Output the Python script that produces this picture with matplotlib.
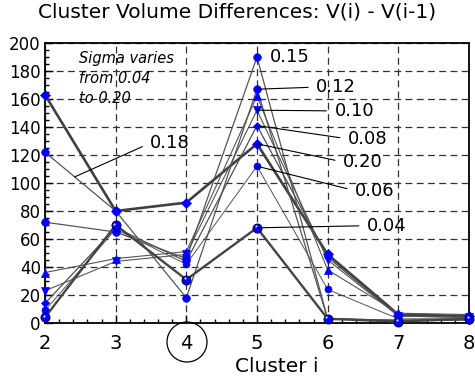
import matplotlib
matplotlib.use('Agg')
import matplotlib.pyplot as plt
import numpy as np
from matplotlib.patches import Circle
from matplotlib.ticker import MultipleLocator
from matplotlib.transforms import offset_copy

clusters = [2, 3, 4, 5, 6, 7, 8]

# volume differences per sigma value
s020 = [163, 80, 86, 128, 49, 6, 5]
s018 = [122, 80, 18, 167, 3, 2, 3]
s015 = [72, 65, 46, 190, 3, 2, 2]
s012 = [36, 46, 51, 162, 38, 7, 6]
s010 = [23, 44, 49, 152, 45, 5, 4]
s008 = [14, 68, 44, 141, 47, 5, 4]
s006 = [9, 67, 42, 112, 24, 3, 3]
s004 = [4, 70, 31, 68, 3, 1, 3]

BLUE = '#0000ff'

fig = plt.figure(figsize=(4.75, 3.78), dpi=100)
ax = fig.add_axes([45 / 475, 55 / 378, 424 / 475, 280 / 378])

series = [
    # values, marker, marker size, line width, line colour
    (s020, 'D', 5.5, 1.9, '#404040'),
    (s018, 'o', 5.5, 0.9, '#555555'),
    (s015, 'o', 5.5, 0.9, '#555555'),
    (s012, '^', 5.5, 0.8, '#555555'),
    (s010, 'v', 5.5, 0.8, '#555555'),
    (s008, 'D', 4.5, 0.9, '#505050'),
    (s006, 'o', 5.0, 0.7, '#555555'),
    (s004, 'o', 6.5, 1.7, '#444444'),
]

for vals, mk, ms, lw, lc in series:
    ax.plot(clusters, vals, '-', color=lc, lw=lw, zorder=3, clip_on=False)

for i, (vals, mk, ms, lw, lc) in enumerate(series):
    if i == 7:
        # shaded ball markers
        ax.plot(clusters, vals, 'o', ms=ms, mfc=BLUE, mec='#000050', mew=0.7,
                zorder=5, clip_on=False)
        hl = offset_copy(ax.transData, fig=fig, x=-1.0, y=1.0, units='points')
        ax.plot(clusters, vals, 'o', ms=1.6, mfc='#d8d8ff', mec='none',
                transform=hl, zorder=6, clip_on=False)
    else:
        ax.plot(clusters, vals, mk, ms=ms, mfc=BLUE, mec=BLUE, mew=0.5,
                zorder=4, clip_on=False)

ax.set_xlim(2, 8)
ax.set_ylim(0, 200)
ax.xaxis.set_major_locator(MultipleLocator(1))
ax.xaxis.set_minor_locator(MultipleLocator(0.2))
ax.yaxis.set_major_locator(MultipleLocator(20))
ax.yaxis.set_minor_locator(MultipleLocator(5))
ax.tick_params(which='both', direction='in', top=False, right=False, width=1)
ax.tick_params(which='major', length=6)
ax.tick_params(which='minor', length=3)
ax.tick_params(axis='x', labelsize=14, pad=8)
ax.tick_params(axis='y', labelsize=12, pad=3)
for sp in ax.spines.values():
    sp.set_linewidth(1.3)

ax.grid(True, which='major', color='#303030', lw=0.9, linestyle=(0, (5.5, 3.5)))
ax.set_axisbelow(True)

ax.set_xlabel('Cluster i', fontsize=14.5)
ax.xaxis.set_label_coords(0.547, -0.122)

fig.text(0.50, 1 - 3 / 378, 'Cluster Volume Differences: V(i) - V(i-1)',
         ha='center', va='top', fontsize=14.5)

ax.text(2.48, 194, 'Sigma varies\nfrom 0.04\nto 0.20', style='italic',
        fontsize=10.5, ha='left', va='top', linespacing=1.4)

# labels at the peak, with leader lines back to the points
peak_labels = [
    ('0.15', s015, 5.18, 190, False),
    ('0.12', s018, 5.84, 168.5, True),
    ('0.10', s010, 6.10, 151.5, True),
    ('0.08', s008, 6.29, 131.5, True),
    ('0.20', s020, 6.22, 115, True),
    ('0.06', s006, 6.39, 94.5, True),
    ('0.04', s004, 6.56, 69.5, True),
]
for txt, vals, tx, ty, leader in peak_labels:
    if leader:
        ax.annotate(txt, xy=(5, vals[3]), xytext=(tx, ty), fontsize=13,
                    ha='left', va='center', zorder=7,
                    arrowprops=dict(arrowstyle='-', color='black', lw=0.8,
                                    shrinkA=4, shrinkB=0, relpos=(0, 0.5)))
    else:
        ax.text(tx, ty, txt, fontsize=13, ha='left', va='center', zorder=7)

x18 = 2.42
ax.annotate('0.18', xy=(x18, np.interp(x18, clusters, s018)), xytext=(3.49, 128.5),
            fontsize=13, ha='left', va='center', zorder=7,
            arrowprops=dict(arrowstyle='-', color='black', lw=0.8,
                            shrinkA=4, shrinkB=0, relpos=(0, 0.5)))

# ring around the chosen cluster count
fig.add_artist(Circle((187 / 100, (378 - 342) / 100), 0.2,
                      transform=fig.dpi_scale_trans, fill=False,
                      edgecolor='black', lw=0.9))

plt.savefig('out.png', dpi=100)
